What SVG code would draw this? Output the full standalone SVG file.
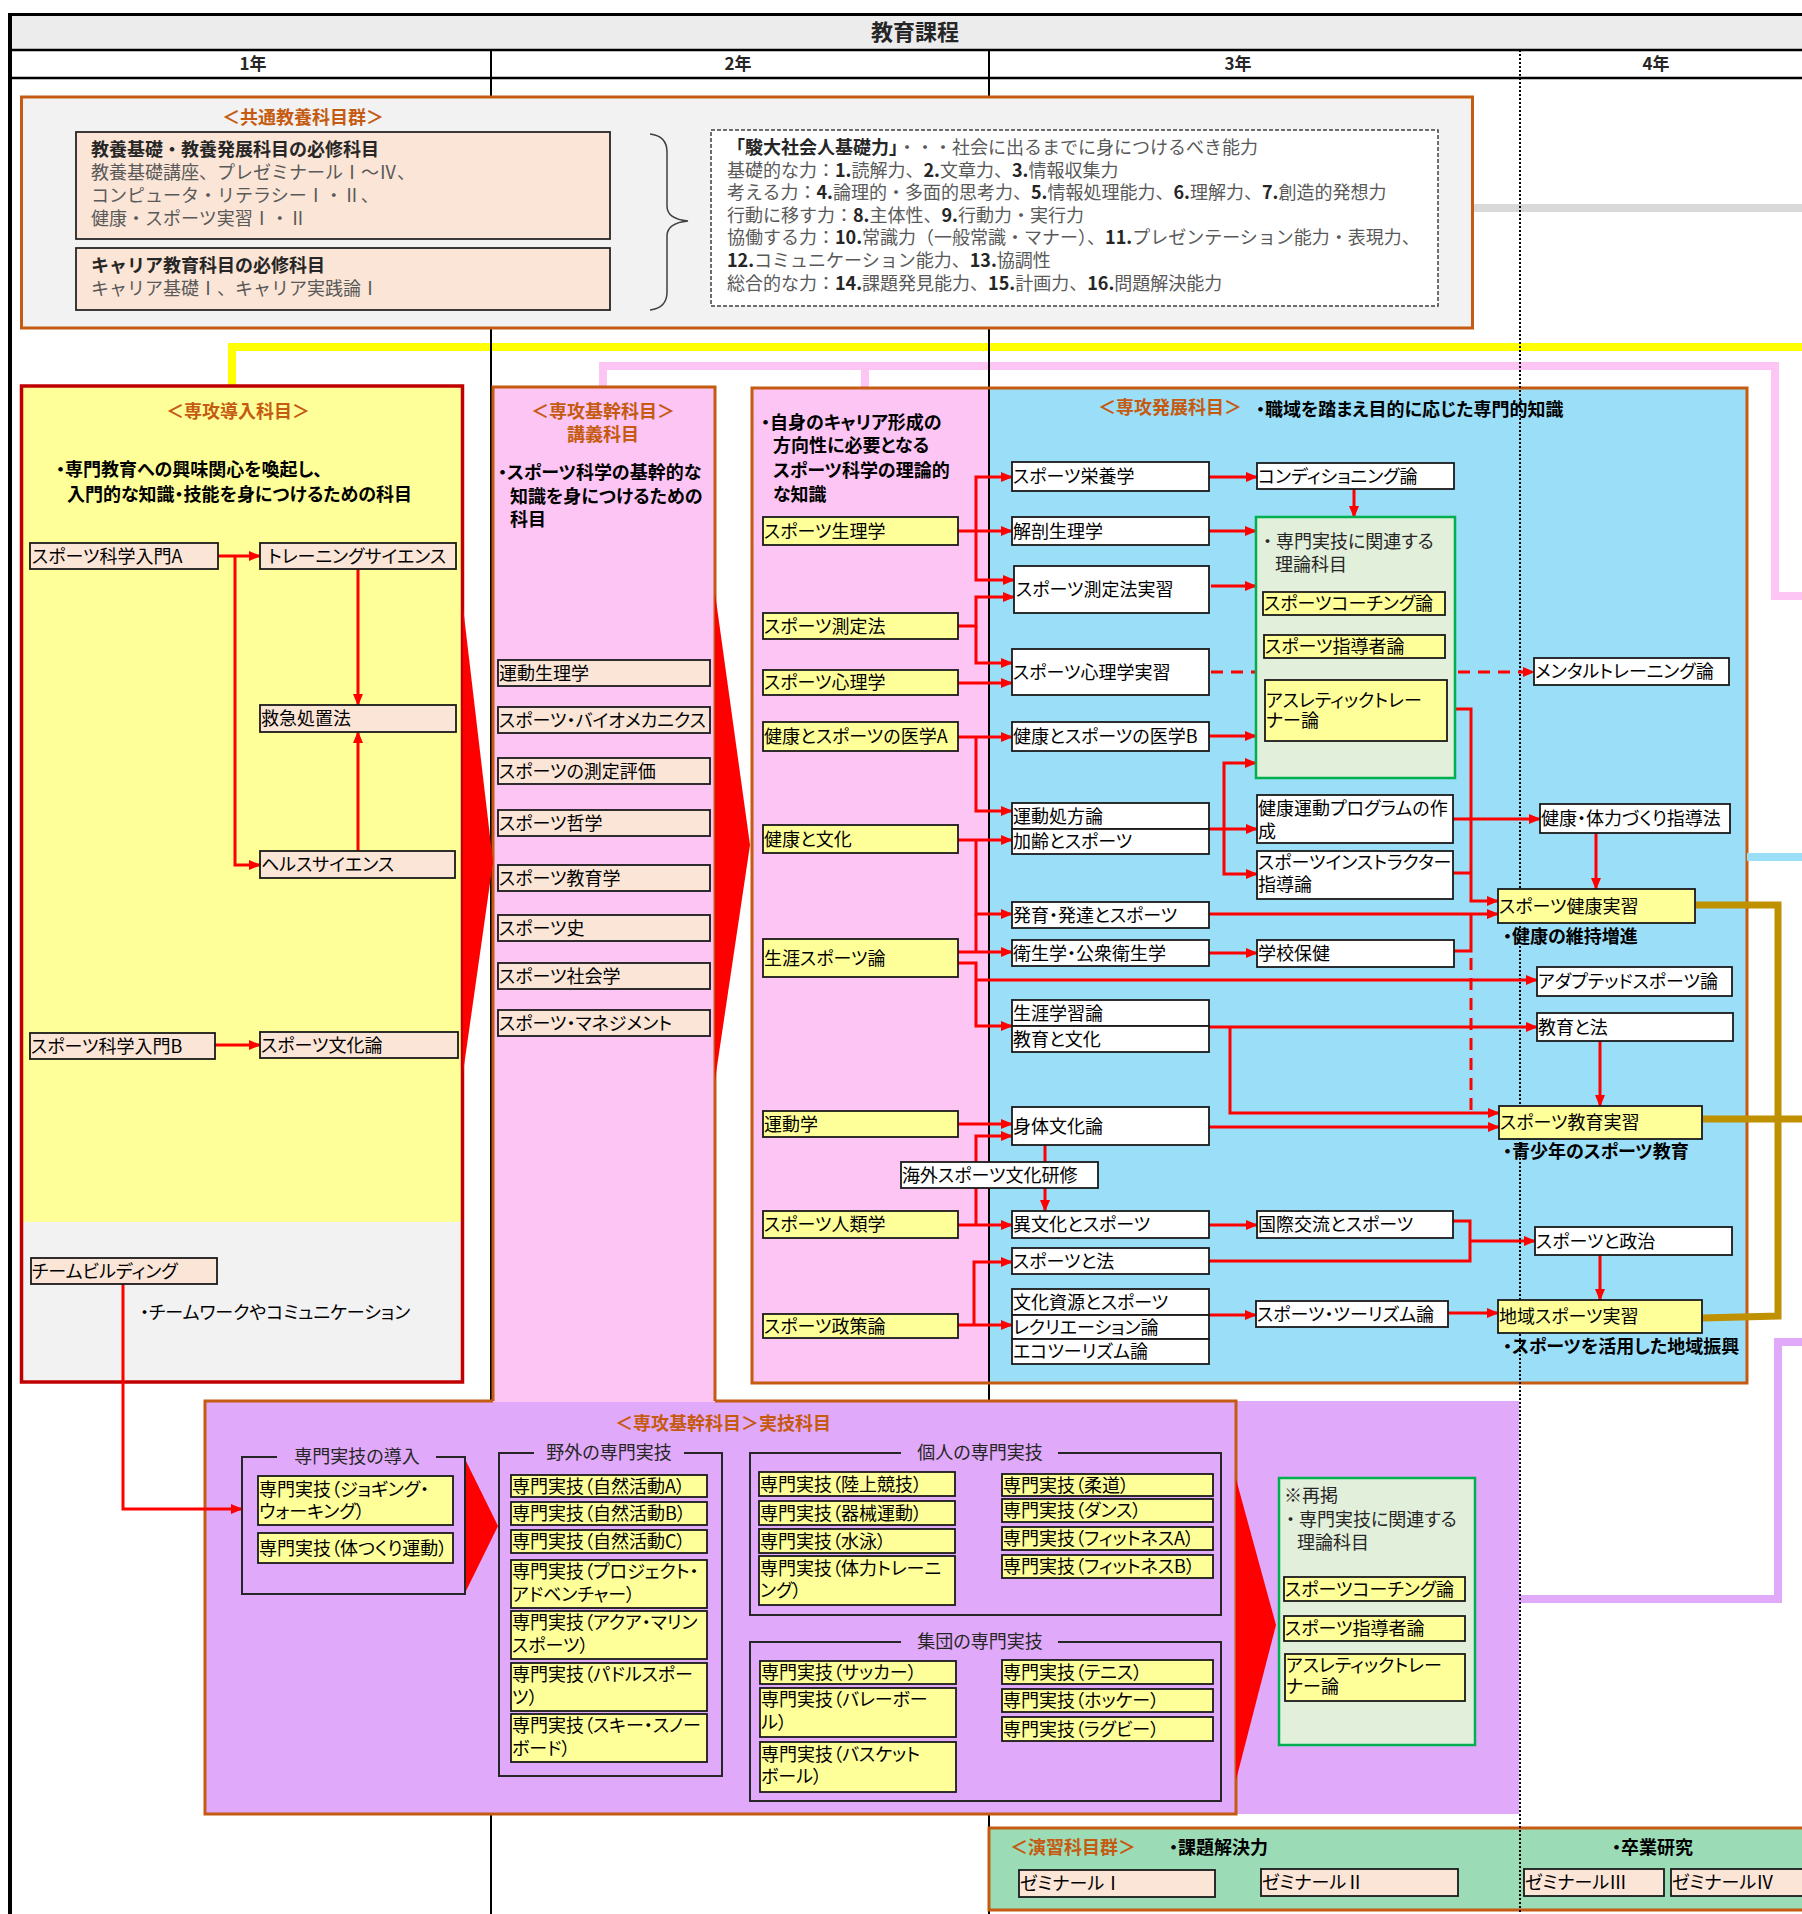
<svg xmlns="http://www.w3.org/2000/svg" width="1802" height="1914" viewBox="0 0 1802 1914">
<defs>
<style>
.t{font-family:"Noto Sans CJK JP","Noto Sans CJK SC",sans-serif;font-size:18px;fill:#000;font-feature-settings:"palt" 1;}
.d{font-family:"Noto Sans CJK JP","Noto Sans CJK SC",sans-serif;font-size:18px;fill:#000;font-weight:bold;font-feature-settings:"palt" 1;}
.o{font-family:"Noto Sans CJK JP","Noto Sans CJK SC",sans-serif;font-size:18px;fill:#c55a11;font-weight:bold;}
.g{font-family:"Noto Sans CJK JP","Noto Sans CJK SC",sans-serif;font-size:18px;fill:#262626;font-feature-settings:"palt" 1;}
.k{font-family:"Noto Sans CJK JP","Noto Sans CJK SC",sans-serif;font-size:18px;fill:#595959;}
.kb{font-weight:bold;fill:#262626;}
.h{font-family:"Noto Sans CJK JP","Noto Sans CJK SC",sans-serif;fill:#262626;}
.pe{fill:#fbe5d6;stroke:#1a1a1a;stroke-width:1.8;}
.ye{fill:#ffff99;stroke:#1a1a1a;stroke-width:1.8;}
.wh{fill:#ffffff;stroke:#1a1a1a;stroke-width:1.8;}
.c{fill:none;stroke:#ff0000;stroke-width:3;}
.a{marker-end:url(#ah);}
.dash{stroke-dasharray:12 8;}
.grp{fill:none;stroke:#262626;stroke-width:2;}
.ob{fill:none;stroke:#c55a11;stroke-width:3;}
</style>
<marker id="ah" viewBox="0 0 12 10" refX="11" refY="5" markerWidth="12" markerHeight="10" orient="auto" markerUnits="userSpaceOnUse"><path d="M0,0 L12,5 L0,10 z" fill="#ff0000"/></marker>
</defs>
<rect x="0" y="0" width="1802" height="1914" fill="#ffffff"/>

<g id="frame">
<rect x="10" y="14" width="1792" height="36" fill="#ececec"/>
<text class="h" x="915" y="40" font-size="22" font-weight="bold" text-anchor="middle">教育課程</text>
<text class="h" x="253" y="70" font-size="17" font-weight="bold" text-anchor="middle">1年</text>
<text class="h" x="738" y="70" font-size="17" font-weight="bold" text-anchor="middle">2年</text>
<text class="h" x="1238" y="70" font-size="17" font-weight="bold" text-anchor="middle">3年</text>
<text class="h" x="1656" y="70" font-size="17" font-weight="bold" text-anchor="middle">4年</text>
<path d="M8,14.5 H1802" stroke="#000" stroke-width="3"/>
<path d="M10,13 V1914" stroke="#000" stroke-width="4"/>
<path d="M10,50 H1802 M10,78 H1802" stroke="#000" stroke-width="2.5"/>
</g>

<g id="bands">
<path d="M1474,208 H1802" stroke="#d9d9d9" stroke-width="8" fill="none"/>
<path d="M232,386 V347 H1802" stroke="#ffff00" stroke-width="8" fill="none"/>
<path d="M603,388 V366 H1775 V596 H1802 M865,366 V388" stroke="#fcc5f4" stroke-width="8" fill="none"/>
<path d="M491,50 V1914 M989,50 V1914" stroke="#000" stroke-width="2"/>
</g>

<g id="containers">
<g id="kyotsu">
<rect x="21.5" y="97" width="1451" height="231" fill="#f2f2f2" stroke="#c55a11" stroke-width="3"/>
<text class="o" x="303" y="124" text-anchor="middle">＜共通教養科目群＞</text>
<rect x="76" y="132" width="534" height="107" fill="#fbe5d6" stroke="#262626" stroke-width="1.8"/>
<text class="k" x="91" y="156"><tspan class="kb">教養基礎・教養発展科目の必修科目</tspan></text>
<text class="k" x="91" y="179">教養基礎講座、プレゼミナールⅠ～Ⅳ、</text>
<text class="k" x="91" y="202">コンピュータ・リテラシーⅠ・Ⅱ、</text>
<text class="k" x="91" y="225">健康・スポーツ実習Ⅰ・Ⅱ</text>
<rect x="76" y="248" width="534" height="62" fill="#fbe5d6" stroke="#262626" stroke-width="1.8"/>
<text class="k" x="91" y="272"><tspan class="kb">キャリア教育科目の必修科目</tspan></text>
<text class="k" x="91" y="295">キャリア基礎Ⅰ、キャリア実践論Ⅰ</text>
<path d="M650,134 Q667,136 667,152 V206 Q667,219 688,221 Q667,223 667,236 V292 Q667,308 650,310" fill="none" stroke="#404040" stroke-width="1.5"/>
<rect x="711" y="130" width="727" height="176" fill="#ffffff" stroke="#404040" stroke-width="1.5" stroke-dasharray="4 2"/>
<text class="k" x="727" y="154"><tspan class="kb">「駿大社会人基礎力」</tspan>・・・社会に出るまでに身につけるべき能力</text>
<text class="k" x="727" y="177">基礎的な力：<tspan class="kb">1.</tspan>読解力、<tspan class="kb">2.</tspan>文章力、<tspan class="kb">3.</tspan>情報収集力</text>
<text class="k" x="727" y="199">考える力：<tspan class="kb">4.</tspan>論理的・多面的思考力、<tspan class="kb">5.</tspan>情報処理能力、<tspan class="kb">6.</tspan>理解力、<tspan class="kb">7.</tspan>創造的発想力</text>
<text class="k" x="727" y="222">行動に移す力：<tspan class="kb">8.</tspan>主体性、<tspan class="kb">9.</tspan>行動力・実行力</text>
<text class="k" x="727" y="244">協働する力：<tspan class="kb">10.</tspan>常識力（一般常識・マナー）、<tspan class="kb">11.</tspan>プレゼンテーション能力・表現力、</text>
<text class="k" x="727" y="267"><tspan class="kb">12.</tspan>コミュニケーション能力、<tspan class="kb">13.</tspan>協調性</text>
<text class="k" x="727" y="290">総合的な力：<tspan class="kb">14.</tspan>課題発見能力、<tspan class="kb">15.</tspan>計画力、<tspan class="kb">16.</tspan>問題解決能力</text>
</g>

<g id="donyu">
<rect x="21.5" y="386" width="441" height="996" fill="#ffff99"/>
<rect x="23" y="1222" width="438" height="159" fill="#f2f2f2"/>
<rect x="21.5" y="386" width="441" height="996" fill="none" stroke="#c00000" stroke-width="3.5"/>
<text class="o" x="238" y="418" text-anchor="middle">＜専攻導入科目＞</text>
<text class="d" x="56" y="476">・専門教育への興味関心を喚起し、</text>
<text class="d" x="67" y="501">入門的な知識・技能を身につけるための科目</text>
<text class="t" x="140" y="1319">・チームワークやコミュニケーション</text>
</g>

<g id="jitsugi">
<rect x="205" y="1401" width="1314" height="413" fill="#e1a9f9"/>
<path class="ob" d="M493,1401 H205 V1814 H1236 V1401 H715"/>
<text class="o" x="615" y="1430">＜専攻基幹科目＞実技科目</text>
</g>

<g id="kikan">
<rect x="493" y="387" width="222" height="1015" fill="#fcc5f4"/>
<path class="ob" d="M493,1401 V387 H715 V1401"/>
<text class="o" x="603" y="418" text-anchor="middle">＜専攻基幹科目＞</text>
<text class="o" x="603" y="441" text-anchor="middle">講義科目</text>
<text class="d" x="498" y="479">・スポーツ科学の基幹的な</text>
<text class="d" x="510" y="503">知識を身につけるための</text>
<text class="d" x="510" y="526">科目</text>
</g>

<g id="hatten">
<rect x="752" y="388" width="237" height="995" fill="#fcc5f4"/>
<rect x="989" y="388" width="758" height="995" fill="#9bdef7"/>
<path d="M989,388 V1383" stroke="#000" stroke-width="2"/>
<rect x="752" y="388" width="995" height="995" class="ob"/>
<text class="d" x="761" y="429">・自身のキャリア形成の</text>
<text class="d" x="773" y="452">方向性に必要となる</text>
<text class="d" x="773" y="477">スポーツ科学の理論的</text>
<text class="d" x="773" y="501">な知識</text>
<text class="o" x="1098" y="414">＜専攻発展科目＞</text>
<text class="d" x="1256" y="416">・職域を踏まえ目的に応じた専門的知識</text>
</g>

<g id="enshu">
<rect x="989" y="1828" width="820" height="82" fill="#9bdcb7" stroke="#c55a11" stroke-width="3"/>
<text class="o" x="1010" y="1854">＜演習科目群＞</text>
<text class="d" x="1169" y="1854">・課題解決力</text>
<text class="d" x="1612" y="1854">・卒業研究</text>
</g>

<path d="M1747,857 H1802" stroke="#9bdef7" stroke-width="8" fill="none"/>
<path d="M1696,905 H1778 V1316 L1702,1318 M1703,1119 H1802" stroke="#bf9000" stroke-width="7" fill="none"/>
<path d="M1519,1599 H1778 V1342 H1802" stroke="#e1a9f9" stroke-width="8" fill="none"/>
<polygon points="463,607 493,862 463,1073" fill="#ff0000"/>
<polygon points="715,593 750,845 715,1080" fill="#ff0000"/>
<polygon points="464,1457 498,1526 464,1595" fill="#ff0000"/>
<polygon points="1236,1479 1276,1625 1236,1780" fill="#ff0000"/>
<path d="M1520,50 V1914" stroke="#000" stroke-width="2" stroke-dasharray="2 2"/>
</g>

<g id="connectors">
<path class="c a" d="M218,556 H260"/>
<path class="c a" d="M235,556 V865 H260"/>
<path class="c a" d="M358,569 V705"/>
<path class="c a" d="M358,851 V732"/>
<path class="c a" d="M215,1045 H260"/>
<path class="c a" d="M123,1284 V1509 H242"/>

<path class="c a" d="M958,531 H1012"/>
<path class="c a" d="M976,531 V477 H1012"/>
<path class="c a" d="M976,531 V580 H1014"/>
<path class="c a" d="M958,626 H976 V597 H1014"/>
<path class="c a" d="M976,626 V663 H1012"/>
<path class="c a" d="M958,683 H1012"/>
<path class="c a" d="M958,737 H1012"/>
<path class="c a" d="M976,737 V811 H1012"/>
<path class="c a" d="M958,840 H1012"/>
<path class="c a" d="M976,840 V914 H1012"/>
<path class="c" d="M976,914 V952"/>
<path class="c a" d="M958,952 H1012"/>
<path class="c a" d="M958,963 H976 V1026 H1012"/>
<path class="c a" d="M976,980 H1537"/>
<path class="c a" d="M958,1124 H1012"/>
<path class="c a" d="M958,1225 H1012"/>
<path class="c a" d="M976,1225 V1136 H1012"/>
<path class="c" d="M1045,1145 V1162"/>
<path class="c a" d="M1045,1188 V1211"/>
<path class="c a" d="M958,1325 H1012"/>
<path class="c a" d="M974,1325 V1262 H1012"/>

<path class="c a" d="M1209,477 H1257"/>
<path class="c a" d="M1354,489 V517"/>
<path class="c a" d="M1209,531 H1256"/>
<path class="c a" d="M1211,586 H1256"/>
<path class="c dash" d="M1211,672 H1256"/>
<path class="c dash a" d="M1458,672 H1534"/>
<path class="c a" d="M1209,736 H1256"/>
<path class="c a" d="M1209,829 H1257"/>
<path class="c a" d="M1224,829 V763 H1256"/>
<path class="c a" d="M1224,829 V874 H1257"/>
<path class="c a" d="M1453,819 H1540"/>
<path class="c a" d="M1447,709 H1471 V901 H1498"/>
<path class="c" d="M1453,873 H1471"/>
<path class="c a" d="M1596,833 V889"/>
<path class="c a" d="M1209,914 H1498"/>
<path class="c a" d="M1209,953 H1257"/>
<path class="c" d="M1454,951 H1471 V914"/>
<path class="c dash" d="M1471,958 V1113"/>
<path class="c a" d="M1209,1027 H1537"/>
<path class="c a" d="M1230,1027 V1113 H1499"/>
<path class="c a" d="M1600,1041 V1106"/>
<path class="c a" d="M1209,1127 H1499"/>
<path class="c a" d="M1209,1225 H1257"/>
<path class="c" d="M1453,1221 H1470 V1261 H1209"/>
<path class="c a" d="M1470,1241 H1535"/>
<path class="c a" d="M1600,1255 V1300"/>
<path class="c a" d="M1209,1315 H1256"/>
<path class="c a" d="M1448,1313 H1498"/>
</g>

<g id="nodes">
<g id="n-intro-a"><rect class="pe" x="30" y="543" width="188" height="26"/><text class="t" x="32" y="562.5">スポーツ科学入門A</text></g>
<g id="n-training"><rect class="pe" x="260" y="543" width="196" height="26"/><text class="t" x="268" y="562.5">トレーニングサイエンス</text></g>
<g id="n-kyukyu"><rect class="pe" x="260" y="705" width="196" height="27"/><text class="t" x="261" y="725">救急処置法</text></g>
<g id="n-health"><rect class="pe" x="260" y="851" width="195" height="27"/><text class="t" x="261" y="871">ヘルスサイエンス</text></g>
<g id="n-intro-b"><rect class="pe" x="30" y="1033" width="185" height="26"/><text class="t" x="31" y="1052.5">スポーツ科学入門B</text></g>
<g id="n-bunkaron"><rect class="pe" x="260" y="1032" width="198" height="26"/><text class="t" x="261" y="1051.5">スポーツ文化論</text></g>
<g id="n-team"><rect class="pe" x="31" y="1258" width="186" height="26"/><text class="t" x="32" y="1277.5">チームビルディング</text></g>

<g id="n-k1"><rect class="pe" x="498" y="660" width="212" height="26"/><text class="t" x="499" y="679.5">運動生理学</text></g>
<g id="n-k2"><rect class="pe" x="498" y="707" width="212" height="26"/><text class="t" x="499" y="726.5">スポーツ・バイオメカニクス</text></g>
<g id="n-k3"><rect class="pe" x="498" y="758" width="212" height="26"/><text class="t" x="499" y="777.5">スポーツの測定評価</text></g>
<g id="n-k4"><rect class="pe" x="498" y="810" width="212" height="26"/><text class="t" x="499" y="829.5">スポーツ哲学</text></g>
<g id="n-k5"><rect class="pe" x="498" y="865" width="212" height="26"/><text class="t" x="499" y="884.5">スポーツ教育学</text></g>
<g id="n-k6"><rect class="pe" x="498" y="915" width="212" height="26"/><text class="t" x="499" y="934.5">スポーツ史</text></g>
<g id="n-k7"><rect class="pe" x="498" y="963" width="212" height="26"/><text class="t" x="499" y="982.5">スポーツ社会学</text></g>
<g id="n-k8"><rect class="pe" x="498" y="1010" width="212" height="26"/><text class="t" x="499" y="1029.5">スポーツ・マネジメント</text></g>

<g id="n-c1"><rect class="ye" x="763" y="517" width="195" height="28"/><text class="t" x="764" y="537.5">スポーツ生理学</text></g>
<g id="n-c2"><rect class="ye" x="763" y="613" width="195" height="26"/><text class="t" x="764" y="632.5">スポーツ測定法</text></g>
<g id="n-c3"><rect class="ye" x="763" y="670" width="195" height="25"/><text class="t" x="764" y="689">スポーツ心理学</text></g>
<g id="n-c4"><rect class="ye" x="763" y="722" width="195" height="29"/><text class="t" x="764" y="743">健康とスポーツの医学A</text></g>
<g id="n-c5"><rect class="ye" x="763" y="825" width="195" height="28"/><text class="t" x="764" y="845.5">健康と文化</text></g>
<g id="n-c6"><rect class="ye" x="763" y="939" width="195" height="38"/><text class="t" x="764" y="964.5">生涯スポーツ論</text></g>
<g id="n-c7"><rect class="ye" x="763" y="1111" width="195" height="26"/><text class="t" x="764" y="1130.5">運動学</text></g>
<g id="n-c8"><rect class="ye" x="763" y="1211" width="195" height="27"/><text class="t" x="764" y="1231">スポーツ人類学</text></g>
<g id="n-c9"><rect class="ye" x="763" y="1314" width="195" height="24"/><text class="t" x="764" y="1332.5">スポーツ政策論</text></g>

<g id="n-b1"><rect class="wh" x="1012" y="462" width="197" height="29"/><text class="t" x="1013" y="483">スポーツ栄養学</text></g>
<g id="n-b2"><rect class="wh" x="1012" y="517" width="197" height="28"/><text class="t" x="1013" y="537.5">解剖生理学</text></g>
<g id="n-b3"><rect class="wh" x="1014" y="566" width="195" height="47"/><text class="t" x="1016" y="596">スポーツ測定法実習</text></g>
<g id="n-b4"><rect class="wh" x="1012" y="649" width="197" height="46"/><text class="t" x="1013" y="678.5">スポーツ心理学実習</text></g>
<g id="n-b5"><rect class="wh" x="1012" y="722" width="197" height="29"/><text class="t" x="1013" y="743">健康とスポーツの医学B</text></g>
<g id="n-b6"><rect class="wh" x="1012" y="803" width="197" height="26"/><text class="t" x="1013" y="822.5">運動処方論</text></g>
<g id="n-b7"><rect class="wh" x="1012" y="829" width="197" height="25"/><text class="t" x="1013" y="848">加齢とスポーツ</text></g>
<g id="n-b8"><rect class="wh" x="1012" y="902" width="197" height="26"/><text class="t" x="1013" y="921.5">発育・発達とスポーツ</text></g>
<g id="n-b9"><rect class="wh" x="1012" y="940" width="197" height="26"/><text class="t" x="1013" y="959.5">衛生学・公衆衛生学</text></g>
<g id="n-b10"><rect class="wh" x="1012" y="1000" width="197" height="26"/><text class="t" x="1013" y="1019.5">生涯学習論</text></g>
<g id="n-b11"><rect class="wh" x="1012" y="1026" width="197" height="26"/><text class="t" x="1013" y="1045.5">教育と文化</text></g>
<g id="n-b12"><rect class="wh" x="1012" y="1107" width="197" height="38"/><text class="t" x="1013" y="1132.5">身体文化論</text></g>
<g id="n-b13"><rect class="wh" x="901" y="1162" width="197" height="26"/><text class="t" x="902" y="1181.5">海外スポーツ文化研修</text></g>
<g id="n-b14"><rect class="wh" x="1012" y="1211" width="197" height="27"/><text class="t" x="1013" y="1231">異文化とスポーツ</text></g>
<g id="n-b15"><rect class="wh" x="1012" y="1248" width="197" height="26"/><text class="t" x="1013" y="1267.5">スポーツと法</text></g>
<g id="n-b16"><rect class="wh" x="1012" y="1289" width="197" height="26"/><text class="t" x="1013" y="1308.5">文化資源とスポーツ</text></g>
<g id="n-b17"><rect class="wh" x="1012" y="1315" width="197" height="24"/><text class="t" x="1013" y="1333.5">レクリエーション論</text></g>
<g id="n-b18"><rect class="wh" x="1012" y="1339" width="197" height="25"/><text class="t" x="1013" y="1358">エコツーリズム論</text></g>

<g id="n-r1"><rect class="wh" x="1257" y="463" width="197" height="26"/><text class="t" x="1258" y="482.5">コンディショニング論</text></g>
<g id="n-theory">
<rect x="1256" y="517" width="199" height="261" fill="#e2efda" stroke="#00b050" stroke-width="2.5"/>
<text class="g" x="1263" y="548">・ 専門実技に関連する</text>
<text class="g" x="1275" y="571">理論科目</text>
<rect class="ye" x="1263" y="592" width="182" height="23"/><text class="t" x="1264" y="610">スポーツコーチング論</text>
<rect class="ye" x="1264" y="635" width="181" height="23"/><text class="t" x="1265" y="653">スポーツ指導者論</text>
<rect class="ye" x="1265" y="680" width="182" height="61"/><text class="t" x="1266" y="707">アスレティックトレー</text><text class="t" x="1266" y="727">ナー論</text>
</g>
<g id="n-r2"><rect class="wh" x="1257" y="795" width="196" height="48"/><text class="t" x="1258" y="815">健康運動プログラムの作</text><text class="t" x="1258" y="838">成</text></g>
<g id="n-r3"><rect class="wh" x="1257" y="851" width="196" height="48"/><text class="t" x="1258" y="869">スポーツインストラクター</text><text class="t" x="1258" y="891">指導論</text></g>
<g id="n-r4"><rect class="wh" x="1257" y="940" width="197" height="27"/><text class="t" x="1258" y="960">学校保健</text></g>
<g id="n-r5"><rect class="wh" x="1257" y="1211" width="196" height="27"/><text class="t" x="1258" y="1231">国際交流とスポーツ</text></g>
<g id="n-r6"><rect class="wh" x="1256" y="1301" width="192" height="26"/><text class="t" x="1257" y="1320.5">スポーツ・ツーリズム論</text></g>

<g id="n-f1"><rect class="wh" x="1534" y="658" width="195" height="27"/><text class="t" x="1535" y="678">メンタルトレーニング論</text></g>
<g id="n-f2"><rect class="wh" x="1540" y="804" width="190" height="29"/><text class="t" x="1541" y="825">健康・体力づくり指導法</text></g>
<g id="n-f3"><rect class="ye" x="1498" y="889" width="197" height="34"/><text class="t" x="1499" y="912.5">スポーツ健康実習</text><text class="d" x="1503" y="943">・健康の維持増進</text></g>
<g id="n-f4"><rect class="wh" x="1537" y="967" width="195" height="29"/><text class="t" x="1538" y="988">アダプテッドスポーツ論</text></g>
<g id="n-f5"><rect class="wh" x="1537" y="1013" width="196" height="28"/><text class="t" x="1538" y="1033.5">教育と法</text></g>
<g id="n-f6"><rect class="ye" x="1499" y="1106" width="203" height="33"/><text class="t" x="1500" y="1129">スポーツ教育実習</text><text class="d" x="1503" y="1158">・青少年のスポーツ教育</text></g>
<g id="n-f7"><rect class="wh" x="1535" y="1227" width="197" height="28"/><text class="t" x="1536" y="1247.5">スポーツと政治</text></g>
<g id="n-f8"><rect class="ye" x="1498" y="1300" width="204" height="33"/><text class="t" x="1499" y="1323">地域スポーツ実習</text><text class="d" x="1503" y="1353">・スポーツを活用した地域振興</text></g>

<g id="n-g-intro">
<path class="grp" d="M277,1457 H242 V1594 H465 V1457 H436"/>
<text class="g" x="357" y="1463" text-anchor="middle">専門実技の導入</text>
<rect class="ye" x="258" y="1476" width="195" height="49"/><text class="t" x="259" y="1496">専門実技（ジョギング・</text><text class="t" x="259" y="1518">ウォーキング）</text>
<rect class="ye" x="258" y="1533" width="195" height="30"/><text class="t" x="259" y="1554.5">専門実技（体つくり運動）</text>
</g>
<g id="n-g-outdoor">
<path class="grp" d="M534,1453 H499 V1776 H722 V1453 H684"/>
<text class="g" x="609" y="1459" text-anchor="middle">野外の専門実技</text>
<rect class="ye" x="511" y="1475" width="196" height="22"/><text class="t" x="512" y="1492.5">専門実技（自然活動A）</text>
<rect class="ye" x="511" y="1502" width="196" height="23"/><text class="t" x="512" y="1520">専門実技（自然活動B）</text>
<rect class="ye" x="511" y="1530" width="196" height="23"/><text class="t" x="512" y="1548">専門実技（自然活動C）</text>
<rect class="ye" x="511" y="1560" width="196" height="48"/><text class="t" x="512" y="1578">専門実技（プロジェクト・</text><text class="t" x="512" y="1601">アドベンチャー）</text>
<rect class="ye" x="511" y="1611" width="196" height="48"/><text class="t" x="512" y="1629">専門実技（アクア・マリン</text><text class="t" x="512" y="1652">スポーツ）</text>
<rect class="ye" x="511" y="1663" width="196" height="48"/><text class="t" x="512" y="1681">専門実技（パドルスポー</text><text class="t" x="512" y="1704">ツ）</text>
<rect class="ye" x="511" y="1714" width="196" height="48"/><text class="t" x="512" y="1732">専門実技（スキー・スノー</text><text class="t" x="512" y="1755">ボード）</text>
</g>
<g id="n-g-individual">
<path class="grp" d="M901,1453 H750 V1615 H1221 V1453 H1058"/>
<text class="g" x="980" y="1459" text-anchor="middle">個人の専門実技</text>
<rect class="ye" x="759" y="1472" width="196" height="24"/><text class="t" x="760" y="1490.5">専門実技（陸上競技）</text>
<rect class="ye" x="759" y="1501" width="196" height="24"/><text class="t" x="760" y="1519.5">専門実技（器械運動）</text>
<rect class="ye" x="759" y="1529" width="196" height="24"/><text class="t" x="760" y="1547.5">専門実技（水泳）</text>
<rect class="ye" x="759" y="1556" width="196" height="49"/><text class="t" x="760" y="1575">専門実技（体力トレーニ</text><text class="t" x="760" y="1597">ング）</text>
<rect class="ye" x="1002" y="1474" width="211" height="22"/><text class="t" x="1003" y="1491.5">専門実技（柔道）</text>
<rect class="ye" x="1002" y="1499" width="211" height="23"/><text class="t" x="1003" y="1517">専門実技（ダンス）</text>
<rect class="ye" x="1002" y="1527" width="211" height="23"/><text class="t" x="1003" y="1545">専門実技（フィットネスA）</text>
<rect class="ye" x="1002" y="1555" width="211" height="23"/><text class="t" x="1003" y="1573">専門実技（フィットネスB）</text>
</g>
<g id="n-g-team">
<path class="grp" d="M901,1642 H750 V1801 H1221 V1642 H1058"/>
<text class="g" x="980" y="1648" text-anchor="middle">集団の専門実技</text>
<rect class="ye" x="760" y="1661" width="196" height="23"/><text class="t" x="761" y="1679">専門実技（サッカー）</text>
<rect class="ye" x="760" y="1688" width="196" height="49"/><text class="t" x="761" y="1706">専門実技（バレーボー</text><text class="t" x="761" y="1729">ル）</text>
<rect class="ye" x="760" y="1742" width="196" height="50"/><text class="t" x="761" y="1761">専門実技（バスケット</text><text class="t" x="761" y="1783">ボール）</text>
<rect class="ye" x="1002" y="1660" width="211" height="24"/><text class="t" x="1003" y="1678.5">専門実技（テニス）</text>
<rect class="ye" x="1002" y="1689" width="211" height="23"/><text class="t" x="1003" y="1707">専門実技（ホッケー）</text>
<rect class="ye" x="1002" y="1717" width="211" height="24"/><text class="t" x="1003" y="1735.5">専門実技（ラグビー）</text>
</g>
<g id="n-saikei">
<rect x="1279" y="1478" width="196" height="267" fill="#e2efda" stroke="#00b050" stroke-width="2.5"/>
<text class="g" x="1284" y="1502">※再掲</text>
<text class="g" x="1286" y="1526">・ 専門実技に関連する</text>
<text class="g" x="1297" y="1549">理論科目</text>
<rect class="ye" x="1284" y="1577" width="181" height="24"/><text class="t" x="1285" y="1595.5">スポーツコーチング論</text>
<rect class="ye" x="1284" y="1616" width="181" height="25"/><text class="t" x="1285" y="1635">スポーツ指導者論</text>
<rect class="ye" x="1285" y="1654" width="180" height="47"/><text class="t" x="1286" y="1672">アスレティックトレー</text><text class="t" x="1286" y="1693">ナー論</text>
</g>
<g id="n-s1"><rect class="pe" x="1019" y="1870" width="196" height="27"/><text class="t" x="1020" y="1890">ゼミナールⅠ</text></g>
<g id="n-s2"><rect class="pe" x="1261" y="1869" width="197" height="27"/><text class="t" x="1262" y="1889">ゼミナールⅡ</text></g>
<g id="n-s3"><rect class="pe" x="1524" y="1869" width="140" height="27"/><text class="t" x="1525" y="1889">ゼミナールⅢ</text></g>
<g id="n-s4"><rect class="pe" x="1671" y="1869" width="140" height="27"/><text class="t" x="1672" y="1889">ゼミナールⅣ</text></g>
</g>
</svg>
